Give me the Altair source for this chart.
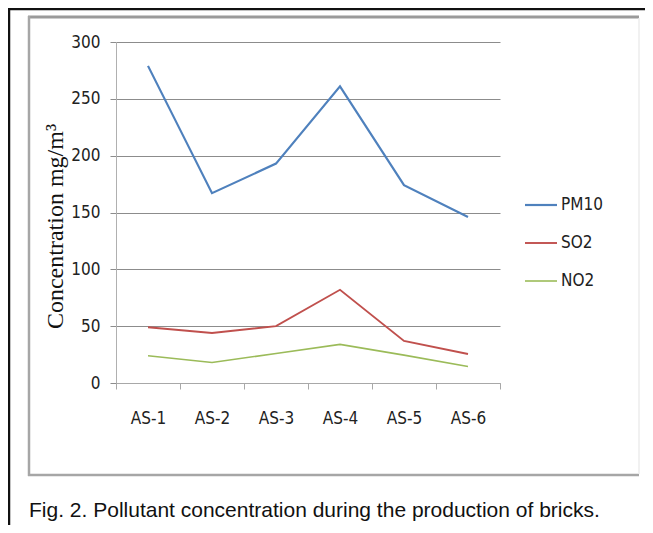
import altair as alt
import pandas as pd

categories = ["AS-1", "AS-2", "AS-3", "AS-4", "AS-5", "AS-6"]
pm10 = [279, 167, 193, 261, 174, 146]
so2 = [49, 44, 50, 82, 37, 25.5]
no2 = [24, 18, 26, 34, 24.5, 14.5]
series = ["PM10", "SO2", "NO2"]
colors = ["#4F81BD", "#C0504D", "#9BBB59"]
widths = [2.2, 1.6, 1.6]
y_ticks = [0, 50, 100, 150, 200, 250, 300]
caption = "Fig. 2. Pollutant concentration during the production of bricks."

rows = []
for name, vals in zip(series, [pm10, so2, no2]):
    for c, v in zip(categories, vals):
        rows.append({"site": c, "series": name, "value": v})
df = pd.DataFrame(rows)
legend_df = pd.DataFrame({"series": series})
one = pd.DataFrame({"k": [0]})

NARROW = "Liberation Sans Narrow, DejaVu Sans Condensed, sans-serif"

color_scale = alt.Scale(domain=series, range=colors)
width_scale = alt.Scale(domain=series, range=widths)

lines = alt.Chart(df).mark_line().encode(
    x=alt.X("site:N", sort=categories,
            scale=alt.Scale(type="band", paddingInner=0, paddingOuter=0),
            axis=alt.Axis(title=None, labelAngle=0, tickBand="extent", tickSize=6,
                          labelPadding=21, labelFont=NARROW, labelFontSize=17,
                          labelColor="#222", domainColor="#a8a8a8", tickColor="#a8a8a8",
                          grid=False)),
    y=alt.Y("value:Q", scale=alt.Scale(domain=[0, 300], nice=False),
            axis=alt.Axis(values=y_ticks, title="Concentration mg/m³",
                          titleFont="Liberation Serif", titleFontSize=24,
                          titleFontWeight="normal", titleColor="#111",
                          titleX=-61, titleY=184, titleAlign="center",
                          titleBaseline="middle", titleAngle=270,
                          labelFont=NARROW, labelFontSize=17, labelColor="#222",
                          labelPadding=10, tickSize=6, tickColor="#8c8c8c",
                          domainColor="#b0b0b0", gridColor="#8c8c8c", grid=True)),
    color=alt.Color("series:N", scale=color_scale, legend=None),
    strokeWidth=alt.StrokeWidth("series:N", scale=width_scale, legend=None),
    detail="series:N",
)

leg_y = alt.Y("series:N", scale=alt.Scale(type="point", domain=series, range=[163, 239], padding=0),
              axis=None)
leg_rule = alt.Chart(legend_df).mark_rule().encode(
    x=alt.value(409), x2=alt.value(441), y=leg_y,
    color=alt.Color("series:N", scale=color_scale, legend=None),
    strokeWidth=alt.StrokeWidth("series:N", scale=width_scale, legend=None),
)
leg_text = alt.Chart(legend_df).mark_text(align="left", baseline="middle", font=NARROW,
                                          fontSize=17, color="#222").encode(
    x=alt.value(445), y=leg_y, text="series:N"
)

# figure frames (decoration)
frame_top = alt.Chart(one).mark_rule(color="#9a9a9a", strokeWidth=3).encode(
    x=alt.value(-88), x2=alt.value(523), y=alt.value(-25)
)
frame_left = alt.Chart(one).mark_rule(color="#a6a6a6", strokeWidth=2.5).encode(
    x=alt.value(-87), y=alt.value(-26), y2=alt.value(434)
)
frame_bottom = alt.Chart(one).mark_rule(color="#a6a6a6", strokeWidth=2.5).encode(
    x=alt.value(-88), x2=alt.value(523), y=alt.value(433)
)
frame_right = alt.Chart(one).mark_rule(color="#ececec", strokeWidth=1.5).encode(
    x=alt.value(523), y=alt.value(-24), y2=alt.value(432)
)
black_top = alt.Chart(one).mark_rule(color="#111", strokeWidth=2.5).encode(
    x=alt.value(-108), x2=alt.value(540), y=alt.value(-33)
)
black_left = alt.Chart(one).mark_rule(color="#111", strokeWidth=2.5).encode(
    x=alt.value(-107), y=alt.value(-34), y2=alt.value(500)
)
cap = alt.Chart(one).mark_text(align="left", baseline="alphabetic",
                               font="Liberation Sans, Arial, sans-serif",
                               fontSize=21, color="#111").encode(
    x=alt.value(-87), y=alt.value(475), text=alt.value(caption)
)

chart = alt.layer(
    frame_top, frame_left, frame_bottom, frame_right, black_top, black_left,
    lines, leg_rule, leg_text, cap
).resolve_scale(y="independent").properties(
    width=384, height=341,
    padding={"left": 108, "top": 34, "right": 145, "bottom": 142},
    autosize=alt.AutoSizeParams(type="none"),
    background="white",
).configure_view(stroke=None)

chart.save("out.html", embed_options={"renderer": "svg", "actions": False})
